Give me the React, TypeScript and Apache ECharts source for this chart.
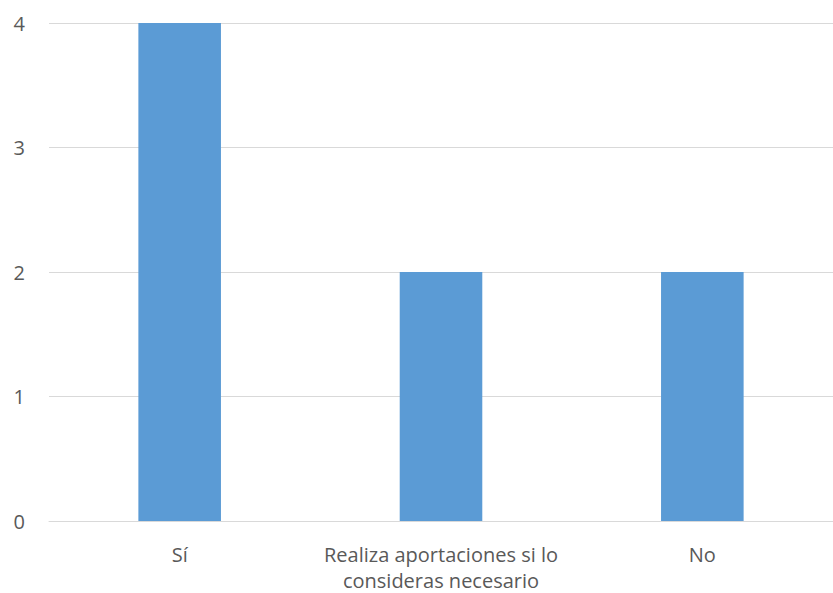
import React, { useEffect, useRef } from "react";
import * as echarts from "echarts";

const categories = ["Sí", "Realiza aportaciones si lo\nconsideras necesario", "No"];
const values = [4, 2, 2];
const yTicks = { min: 0, max: 4, interval: 1 };

export default function App() {
  const ref = useRef<HTMLDivElement>(null);
  useEffect(() => {
    if (!ref.current) return;
    const chart = echarts.init(ref.current, null, { renderer: "svg" });
    chart.setOption({
      animation: false,
      backgroundColor: "#ffffff",
      grid: { left: 49, right: -2, top: 23, bottom: 70, containLabel: false },
      xAxis: {
        type: "category",
        data: categories,
        axisLine: { show: true, lineStyle: { color: "#d9d9d9", width: 1 } },
        axisTick: { show: false },
        axisLabel: {
          color: "#595959",
          fontSize: 20,
          fontFamily: "Open Sans",
          margin: 20,
          lineHeight: 26,
          interval: 0,
        },
      },
      yAxis: {
        type: "value",
        min: yTicks.min,
        max: yTicks.max,
        interval: yTicks.interval,
        axisLine: { show: false },
        axisTick: { show: false },
        splitLine: { lineStyle: { color: "#d9d9d9", width: 1 } },
        axisLabel: { color: "#595959", fontSize: 20, fontFamily: "Open Sans", margin: 24 },
      },
      series: [
        {
          type: "bar",
          data: values,
          barWidth: "31.6%",
          itemStyle: { color: "#5b9bd5" },
        },
      ],
    });
    return () => chart.dispose();
  }, []);
  return (
    <div
      ref={ref}
      style={{ position: "fixed", left: 0, top: 0, width: 833, height: 593 }}
    />
  );
}
